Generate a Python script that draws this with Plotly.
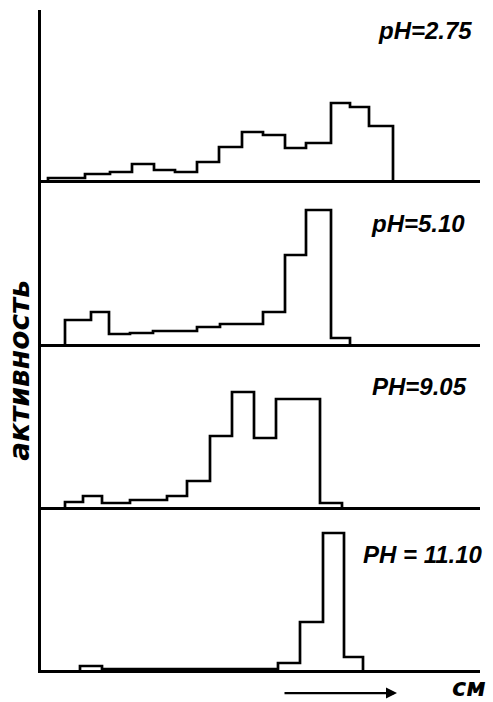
import plotly.graph_objects as go
from plotly.subplots import make_subplots

# ---- data (strip position in arbitrary length units, activity in arbitrary units) ----
ph_labels = ["pH=2.75", "pH=5.10", "PH=9.05", "PH = 11.10"]

edges_275 = [7, 44, 69, 91, 113, 134, 156, 178, 201, 222, 244, 265, 290, 309, 328, 352]
activity_275 = [2, 6, 8, 16, 10, 8, 18, 33, 48, 45, 32, 37, 77, 73, 54]

edges_510 = [24, 50, 68, 89, 112, 156, 179, 222, 244, 265, 290, 309]
activity_510 = [24, 32, 10, 11, 13, 17, 20, 32, 89, 134, 6]

edges_905 = [24, 42, 61, 89, 126, 146, 169, 191, 213, 235, 279, 301]
activity_905 = [5, 11, 4, 7, 11, 26, 71, 115, 69, 108, 4]

edges_1110 = [39, 61, 237, 259, 282, 303, 322]
activity_1110 = [4, 1, 7, 48, 137, 13]

y_label = "активность"
x_label = "см"

series = [(edges_275, activity_275), (edges_510, activity_510),
          (edges_905, activity_905), (edges_1110, activity_1110)]

# ---- layout geometry ----
panel_heights = [170, 164, 163, 163]
x_max = 439
label_pos = [(384, 150), (377, 121), (378, 121), (382, 116)]
label_font = dict(family="Liberation Sans", size=24, color="black", weight="bold", style="italic")

fig = make_subplots(rows=4, cols=1, vertical_spacing=0, row_heights=panel_heights,
                    shared_xaxes=False)

for i, (edges, vals) in enumerate(series):
    xs = [edges[0]] + list(edges[:-1]) + [edges[-1]]
    ys = [0] + list(vals) + [0]
    fig.add_trace(go.Scatter(x=xs, y=ys, mode="lines", line=dict(color="black", width=2.7, shape="hv"),
                             cliponaxis=False, showlegend=False, hoverinfo="skip"),
                  row=i + 1, col=1)
    fig.update_yaxes(range=[0, panel_heights[i]], row=i + 1, col=1)
    lx, ly = label_pos[i]
    suffix = "" if i == 0 else str(i + 1)
    fig.add_annotation(x=lx, y=ly, xref="x" + suffix, yref="y" + suffix, text=ph_labels[i],
                       showarrow=False, xanchor="center", yanchor="middle", font=label_font)

fig.update_xaxes(range=[0, x_max], showline=True, linecolor="black", linewidth=2.5,
                 showgrid=False, zeroline=False, showticklabels=False, ticks="")
fig.update_yaxes(showline=True, linecolor="black", linewidth=2.5,
                 showgrid=False, zeroline=False, showticklabels=False, ticks="")

# y label
fig.add_annotation(x=-0.048, y=0.455, xref="paper", yref="paper", text=y_label, textangle=-90,
                   showarrow=False, xanchor="center", yanchor="middle",
                   font=dict(family="DejaVu Sans", size=28, color="black",
                             weight="bold", style="italic"))
# x label and direction arrow
fig.add_annotation(x=(469 - 41) / 439, y=-0.028, xref="paper", yref="paper", text=x_label,
                   showarrow=False, xanchor="center", yanchor="middle",
                   font=dict(family="DejaVu Sans", size=24, color="black",
                             weight="bold", style="italic"))
fig.add_annotation(x=(397 - 41) / 439, y=-0.035, xref="paper", yref="paper", text="",
                   showarrow=True, arrowhead=2, arrowsize=1, arrowwidth=2.2, arrowcolor="black",
                   ax=-114, ay=0)

fig.update_layout(width=493, height=702, margin=dict(l=41, r=13, t=10, b=32),
                  paper_bgcolor="white", plot_bgcolor="white")

fig.write_html("out.html", config={"displayModeBar": False},
               post_script="document.body.style.margin='0';document.body.style.padding='0';")
